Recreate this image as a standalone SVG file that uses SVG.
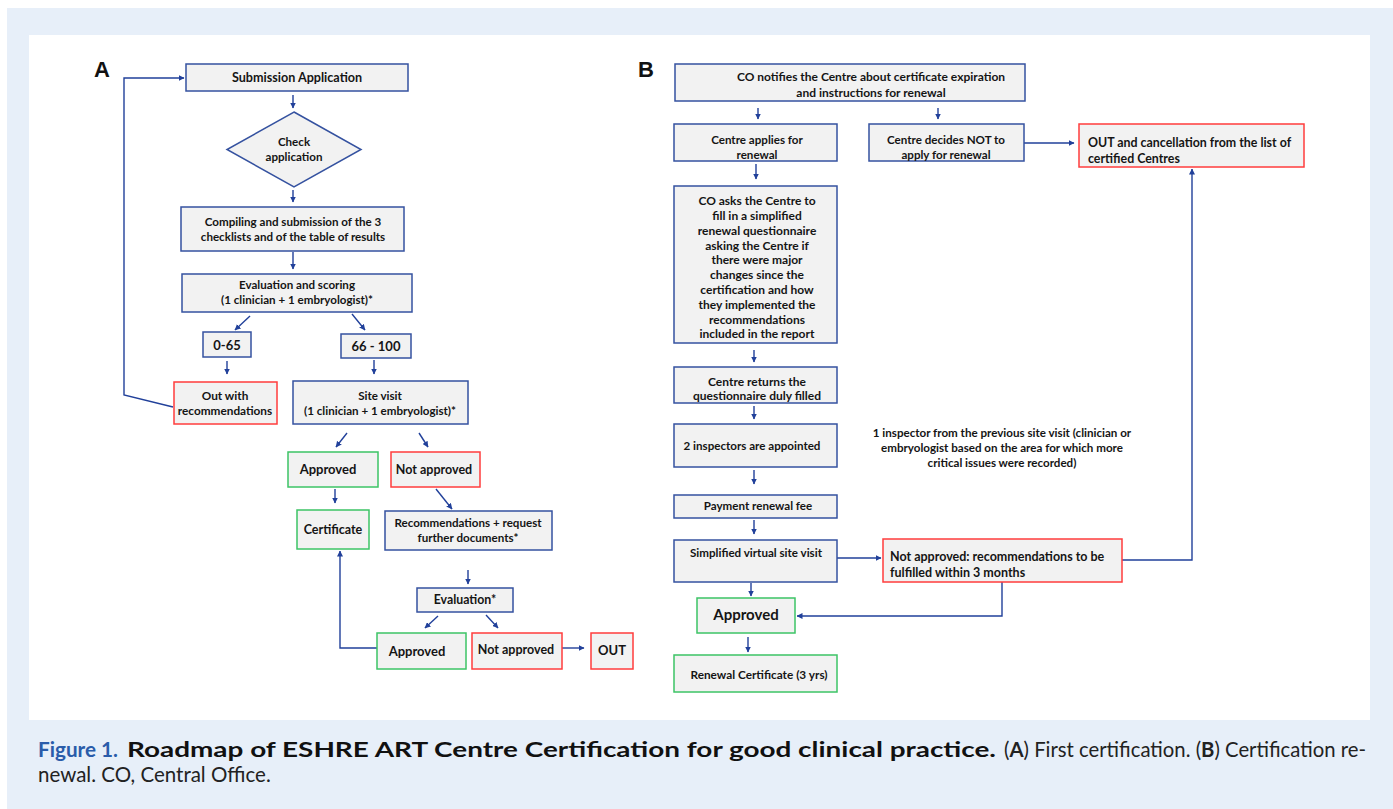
<svg xmlns="http://www.w3.org/2000/svg" width="1393" height="809" viewBox="0 0 1393 809">
<style>
.bx{fill:#f2f2f2;stroke:#3552a0;stroke-width:1.5}
.rd{fill:#f2f2f2;stroke:#ff3c3c;stroke-width:1.5}
.gr{fill:#f2f2f2;stroke:#3cc466;stroke-width:1.5}
.t{font-family:Lato,"Liberation Sans",sans-serif;font-weight:700;font-size:11.6px;fill:#151515;text-anchor:middle}
.l{text-anchor:start}
.c{stroke:#21409a;stroke-width:1.4;fill:none}
.a{marker-end:url(#ah)}
.lbl{font-family:"Liberation Sans",Arial,sans-serif;font-weight:700;font-size:22px;fill:#111}
.cap{font-family:Lato,"Liberation Sans",sans-serif;font-size:20.5px;fill:#222}
.fig{fill:#2a5caa}
.capb{fill:#111}
</style>
<defs>
<marker id="ah" markerWidth="6" markerHeight="6" refX="5.5" refY="3" orient="auto" markerUnits="userSpaceOnUse">
<path d="M0,0 L6,3 L0,6 z" fill="#21409a"/>
</marker>
</defs>
<rect width="1393" height="809" fill="#ffffff"/>
<rect x="7" y="8" width="1386" height="801" fill="#e7eff9"/>
<rect x="29" y="35" width="1341" height="685" fill="#ffffff"/>

<text class="lbl" x="94" y="77">A</text>
<text class="lbl" x="638" y="77">B</text>

<g id="connectors">
<path class="c a" d="M293,95 V108"/>
<path class="c a" d="M293,190 V202"/>
<path class="c a" d="M293,252 V269"/>
<path class="c a" d="M250,316 L235,330"/>
<path class="c a" d="M352,314 L365,330"/>
<path class="c a" d="M227,361 V374"/>
<path class="c a" d="M374,360 V374"/>
<path class="c a" d="M173,407 L124,395 V78 H184"/>
<path class="c a" d="M347,433 L336,447"/>
<path class="c a" d="M419,433 L428,447"/>
<path class="c a" d="M335,489 V503"/>
<path class="c a" d="M436,489 L452,509"/>
<path class="c a" d="M468,570 V584"/>
<path class="c a" d="M438,616 L425,628"/>
<path class="c a" d="M486,615 L498,628"/>
<path class="c a" d="M562,648 H584"/>
<path class="c a" d="M377,648 H340 V551"/>

<path class="c a" d="M758,108 V119"/>
<path class="c a" d="M938,108 V119"/>
<path class="c a" d="M1024,143 H1074"/>
<path class="c a" d="M756,164 V179"/>
<path class="c a" d="M754,350 V362"/>
<path class="c a" d="M754,406 V419"/>
<path class="c a" d="M754,470 V484"/>
<path class="c a" d="M754,520 V534"/>
<path class="c a" d="M837,558 H881"/>
<path class="c a" d="M751,583 V596"/>
<path class="c a" d="M748,637 V652"/>
<path class="c a" d="M1002,582 V616 H797"/>
<path class="c a" d="M1122,560 H1192 V169"/>
</g>

<g id="a-submission"><rect class="bx" x="186" y="64" width="222" height="27"/><text class="t" x="297" y="82" style="font-size:12.6px">Submission Application</text></g>
<g id="a-check"><polygon class="bx" points="294,112 361,149.5 294,187 227,149.5"/><text class="t" x="294" y="146">Check</text><text class="t" x="294" y="161">application</text></g>
<g id="a-compiling"><rect class="bx" x="181" y="207" width="223" height="44"/><text class="t" x="293" y="226">Compiling and submission of the 3</text><text class="t" x="293" y="241">checklists and of the table of results</text></g>
<g id="a-evaluation"><rect class="bx" x="182" y="274" width="230" height="38"/><text class="t" x="297" y="289">Evaluation and scoring</text><text class="t" x="297" y="304">(1 clinician + 1 embryologist)*</text></g>
<g id="a-low"><rect class="bx" x="203" y="332" width="48" height="25"/><text class="t" x="227" y="350" style="font-size:13px">0-65</text></g>
<g id="a-high"><rect class="bx" x="341" y="334" width="70" height="24"/><text class="t" x="376" y="351" style="font-size:13px">66 - 100</text></g>
<g id="a-out-rec"><rect class="rd" x="174" y="382" width="103" height="42"/><text class="t" x="225" y="400" style="font-size:11.8px">Out with</text><text class="t" x="225" y="415" style="font-size:11.8px">recommendations</text></g>
<g id="a-site"><rect class="bx" x="293" y="381" width="175" height="43"/><text class="t" x="380" y="400">Site visit</text><text class="t" x="380" y="415">(1 clinician + 1 embryologist)*</text></g>
<g id="a-approved1"><rect class="gr" x="288" y="452" width="90" height="35"/><text class="t" x="328" y="474" style="font-size:13px">Approved</text></g>
<g id="a-notapproved1"><rect class="rd" x="391" y="452" width="89" height="35"/><text class="t" x="434" y="474" style="font-size:12.5px">Not approved</text></g>
<g id="a-certificate"><rect class="gr" x="297" y="510" width="72" height="39"/><text class="t" x="333" y="534" style="font-size:12.5px">Certificate</text></g>
<g id="a-recommend"><rect class="bx" x="385" y="511" width="167" height="39"/><text class="t" x="468" y="527">Recommendations + request</text><text class="t" x="468" y="542">further documents*</text></g>
<g id="a-evaluation2"><rect class="bx" x="417" y="588" width="96" height="24"/><text class="t" x="465" y="604" style="font-size:12.3px">Evaluation*</text></g>
<g id="a-approved2"><rect class="gr" x="377" y="633" width="89" height="36"/><text class="t" x="417" y="656" style="font-size:13px">Approved</text></g>
<g id="a-notapproved2"><rect class="rd" x="472" y="633" width="90" height="36"/><text class="t" x="516" y="654" style="font-size:12.5px">Not approved</text></g>
<g id="a-out"><rect class="rd" x="591" y="633" width="42" height="36"/><text class="t" x="612" y="655" style="font-size:13px">OUT</text></g>

<g id="b-notify"><rect class="bx" x="675" y="64" width="350" height="37"/><text class="t" x="871" y="81" style="font-size:12px">CO notifies the Centre about certificate expiration</text><text class="t" x="871" y="97" style="font-size:12px">and instructions  for renewal</text></g>
<g id="b-applies"><rect class="bx" x="674" y="124" width="163" height="37"/><text class="t" x="757" y="144">Centre applies for</text><text class="t" x="757" y="159">renewal</text></g>
<g id="b-decides"><rect class="bx" x="869" y="124" width="155" height="37"/><text class="t" x="946" y="144">Centre decides NOT to</text><text class="t" x="946" y="159">apply for renewal</text></g>
<g id="b-out"><rect class="rd" x="1079" y="124" width="225" height="43"/><text class="t l" x="1088" y="147" style="font-size:12.4px">OUT and cancellation from the list of</text><text class="t l" x="1088" y="163" style="font-size:12.4px">certified Centres</text></g>
<g id="b-asks"><rect class="bx" x="674" y="186" width="163" height="157"/>
<text class="t" x="757" y="205" style="font-size:12px">CO asks the Centre to</text>
<text class="t" x="757" y="220" style="font-size:12px">fill in a simplified</text>
<text class="t" x="757" y="235" style="font-size:12px">renewal questionnaire</text>
<text class="t" x="757" y="250" style="font-size:12px">asking the Centre if</text>
<text class="t" x="757" y="264" style="font-size:12px">there were major</text>
<text class="t" x="757" y="279" style="font-size:12px">changes since the</text>
<text class="t" x="757" y="294" style="font-size:12px">certification and how</text>
<text class="t" x="757" y="309" style="font-size:12px">they implemented the</text>
<text class="t" x="757" y="324" style="font-size:12px">recommendations</text>
<text class="t" x="757" y="338" style="font-size:12px">included in the report</text></g>
<g id="b-returns"><rect class="bx" x="674" y="367" width="163" height="36"/><text class="t" x="757" y="386" style="font-size:12px">Centre returns the</text><text class="t" x="757" y="400" style="font-size:12px">questionnaire duly filled</text></g>
<g id="b-inspectors"><rect class="bx" x="674" y="424" width="163" height="43"/><text class="t" x="752" y="450">2 inspectors are appointed</text></g>
<g id="b-note"><text class="t" x="1002" y="437">1 inspector from the previous site visit (clinician or</text><text class="t" x="1002" y="452">embryologist based on the area for which more</text><text class="t" x="1002" y="467">critical issues were recorded)</text></g>
<g id="b-payment"><rect class="bx" x="674" y="495" width="163" height="23"/><text class="t" x="758" y="510">Payment renewal fee</text></g>
<g id="b-virtual"><rect class="bx" x="674" y="540" width="163" height="42"/><text class="t" x="756" y="557">Simplified virtual site visit</text></g>
<g id="b-notapproved"><rect class="rd" x="883" y="539" width="239" height="43"/><text class="t l" x="890" y="561" style="font-size:12.5px">Not approved: recommendations to be</text><text class="t l" x="890" y="577" style="font-size:12.5px">fulfilled within 3 months</text></g>
<g id="b-approved"><rect class="gr" x="697" y="598" width="98" height="35"/><text class="t" x="746" y="620" style="font-size:15px">Approved</text></g>
<g id="b-renewal"><rect class="gr" x="674" y="655" width="163" height="37"/><text class="t" x="759" y="679" style="font-size:11.8px">Renewal Certificate (3 yrs)</text></g>

<g id="caption">
<text class="cap fig" x="38" y="757" font-weight="700" textLength="80" lengthAdjust="spacingAndGlyphs">Figure 1.</text>
<text class="cap capb" x="127" y="757" font-weight="700" textLength="869" lengthAdjust="spacingAndGlyphs">Roadmap of ESHRE ART Centre Certification for good clinical practice.</text>
<text class="cap" x="1004" y="757" textLength="362" lengthAdjust="spacingAndGlyphs">(<tspan font-weight="700">A</tspan>) First certification. (<tspan font-weight="700">B</tspan>) Certification re-</text>
<text class="cap" x="38" y="782">newal. CO, Central Office.</text>
</g>
</svg>
